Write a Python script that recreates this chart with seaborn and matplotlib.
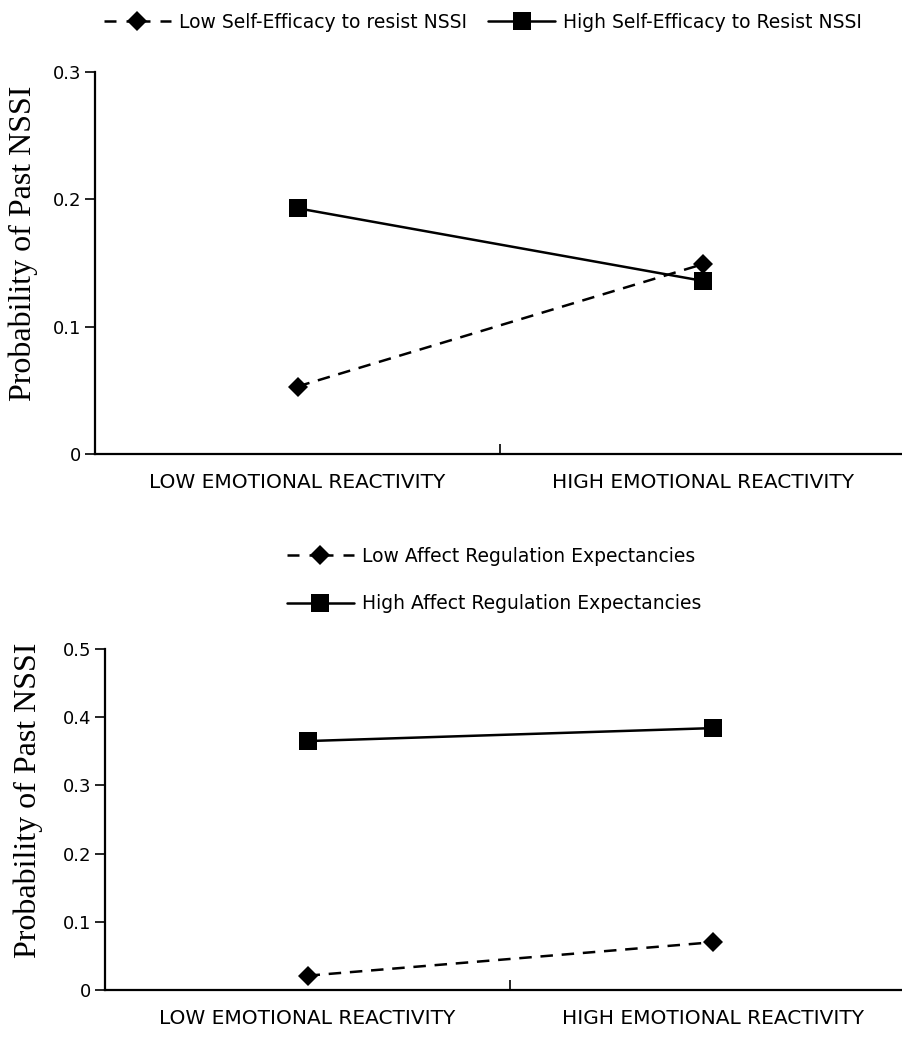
import matplotlib
matplotlib.use("Agg")
import matplotlib.pyplot as plt
import seaborn as sns
import pandas as pd
from matplotlib.lines import Line2D
from matplotlib.ticker import FixedLocator

categories = ["LOW EMOTIONAL REACTIVITY", "HIGH EMOTIONAL REACTIVITY"]

top_series = ["Low Self-Efficacy to resist NSSI", "High Self-Efficacy to Resist NSSI"]
top_low = [0.053, 0.149]
top_high = [0.193, 0.136]
top_yticks = [0, 0.1, 0.2, 0.3]
top_yticklabels = ["0", "0.1", "0.2", "0.3"]

bot_series = ["Low Affect Regulation Expectancies", "High Affect Regulation Expectancies"]
bot_low = [0.021, 0.070]
bot_high = [0.365, 0.384]
bot_yticks = [0, 0.1, 0.2, 0.3, 0.4, 0.5]
bot_yticklabels = ["0", "0.1", "0.2", "0.3", "0.4", "0.5"]

ylabel = "Probability of Past NSSI"

sns.set_theme(style="white")
plt.rcParams['font.family'] = ['DejaVu Sans']
plt.rcParams['text.color'] = 'black'
plt.rcParams['xtick.color'] = 'black'
plt.rcParams['ytick.color'] = 'black'
plt.rcParams['axes.labelcolor'] = 'black'

fig = plt.figure(figsize=(9.02, 10.53), dpi=100)
ax1 = fig.add_axes([95/902, (1053-454)/1053, 810/902, 382/1053])
ax2 = fig.add_axes([105/902, (1053-990)/1053, 810/902, 341/1053])

LW = 1.8
DASH = (5, 3.5)
LEG_DASH = (0, (4.8, 4, 9.6, 4, 4.8, 0.01))
MS_SQ = 12.5
MS_D = 10.5


def panel(ax, series, low, high, yticks, yticklabels, ymax, label_xy):
    df = pd.DataFrame({
        "val": low + high,
        "grp": [series[0]] * 2 + [series[1]] * 2,
        "x": [0, 1, 0, 1],
    })
    sns.lineplot(data=df, x="x", y="val", style="grp", ax=ax,
                 markers={series[0]: "D", series[1]: "s"},
                 dashes={series[0]: DASH, series[1]: ""},
                 color="black", linewidth=LW, legend=False)
    for ln in ax.lines:
        ln.set_markersize(MS_SQ if ln.get_marker() == "s" else MS_D)
        ln.set_markeredgewidth(0)
        ln.set_markerfacecolor("black")
    ax.set_xlim(-0.5, 1.5)
    ax.set_ylim(0, ymax)
    ax.set_xticks([0, 1])
    ax.set_xticklabels(categories, fontsize=14.5)
    ax.xaxis.set_minor_locator(FixedLocator([0.5]))
    ax.tick_params(axis="x", which="major", length=0, pad=14)
    ax.tick_params(axis="x", which="minor", length=7, width=1.2, direction="in",
                   bottom=True, color="black")
    ax.set_yticks(yticks)
    ax.set_yticklabels(yticklabels, fontsize=13)
    ax.tick_params(axis="y", which="major", length=7, width=1.2, direction="out",
                   left=True, color="black", pad=3)
    ax.set_xlabel("")
    ax.set_ylabel(ylabel, fontsize=23, family="Liberation Serif")
    ax.yaxis.set_label_coords(*label_xy)
    for s in ["top", "right"]:
        ax.spines[s].set_visible(False)
    for s in ["left", "bottom"]:
        ax.spines[s].set_color("black")
        ax.spines[s].set_linewidth(1.6)
    ax.grid(False)
    handles = [
        Line2D([], [], color="black", linewidth=LW, linestyle=LEG_DASH,
               marker="D", markersize=MS_D, markeredgewidth=0),
        Line2D([], [], color="black", linewidth=LW, marker="s",
               markersize=MS_SQ, markeredgewidth=0),
    ]
    return handles


h1 = panel(ax1, top_series, top_low, top_high, top_yticks, top_yticklabels, 0.3,
           (-0.070, 0.552))
h2 = panel(ax2, bot_series, bot_low, bot_high, bot_yticks, bot_yticklabels, 0.5,
           (-0.0765, 0.557))

fig.legend(h1, top_series, loc="center", bbox_to_anchor=(483/902, 1 - 22/1053),
           ncol=2, frameon=False, fontsize=13.5, handlelength=3.6,
           handletextpad=0.43, columnspacing=1.1)
fig.legend(h2, bot_series, loc="center", bbox_to_anchor=(494/902, 1 - 580/1053),
           ncol=1, frameon=False, fontsize=13.5, handlelength=3.6,
           handletextpad=0.43, labelspacing=1.5)

fig.savefig("out.png", dpi=100, facecolor="white")
